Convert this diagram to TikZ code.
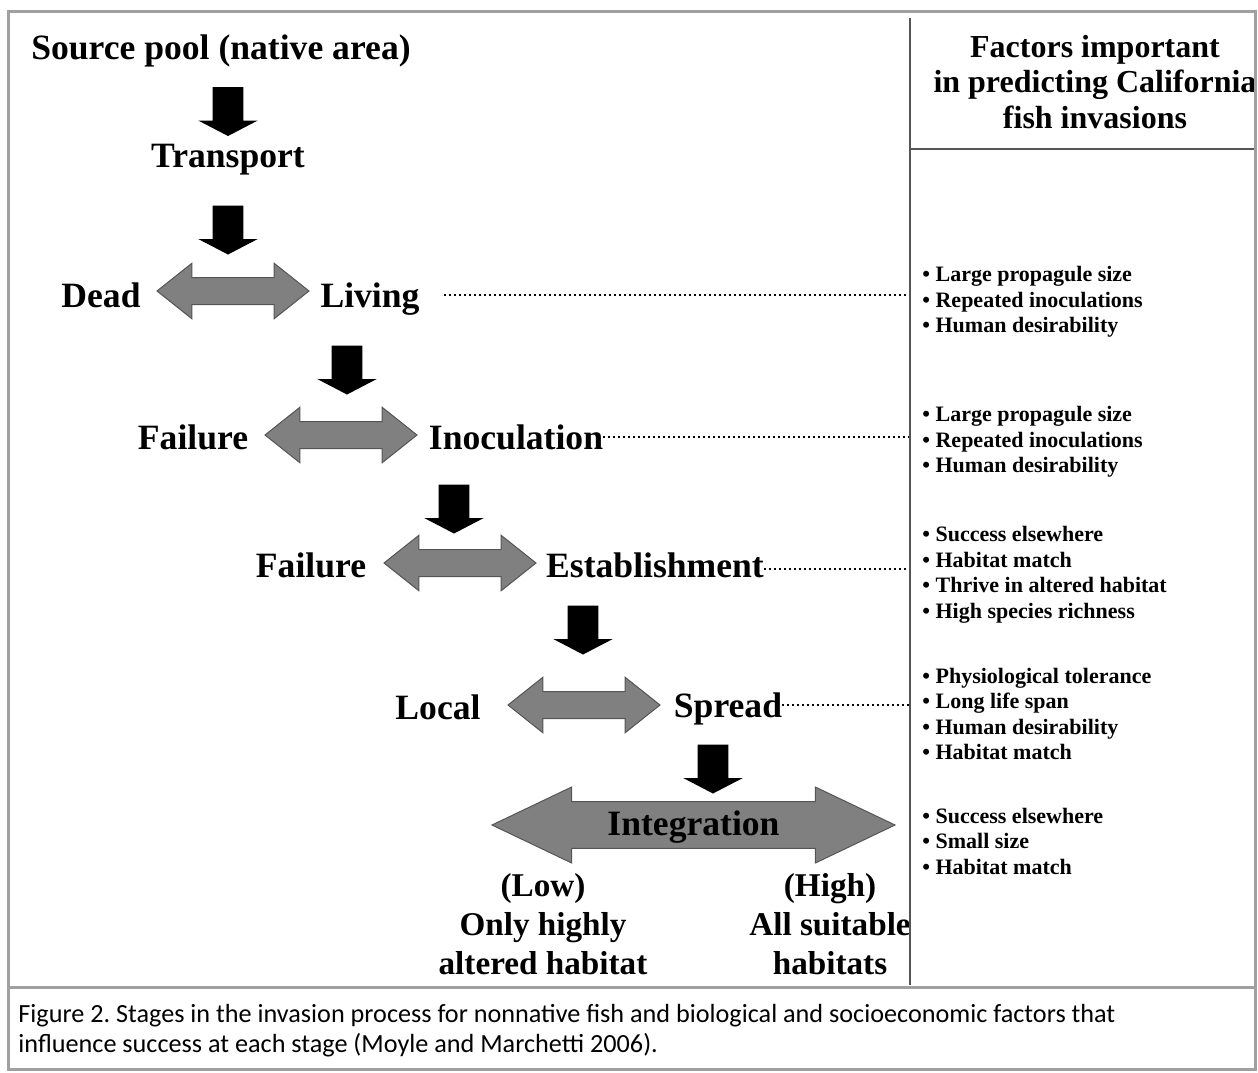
\documentclass[tikz,border=0pt]{standalone}
\usepackage{fontspec}
\setmainfont{Liberation Serif}
\newfontfamily\capfont{Carlito}
\usepackage{tikz}
\usetikzlibrary{shapes.arrows}
\definecolor{framegray}{RGB}{160,160,160}
\definecolor{arrowgray}{RGB}{128,128,128}
\definecolor{rulegray}{RGB}{85,85,85}
\frenchspacing

\begin{document}
\begin{tikzpicture}[x=0.5pt,y=-0.5pt,
  stage/.style={font=\bfseries\fontsize{17.8}{19.5}\selectfont,inner sep=0pt,text height=15pt,text depth=3pt},
  endlbl/.style={font=\bfseries\fontsize{16.6}{19.5}\selectfont,inner sep=0pt,align=center},
  head/.style={font=\bfseries\fontsize{16}{17.75}\selectfont,inner sep=0pt,align=center},
  factor/.style={font=\bfseries\fontsize{11}{12.75}\selectfont,inner sep=0pt,align=left,anchor=west},
  capt/.style={font=\capfont\fontsize{13.1}{15}\selectfont,inner sep=0pt,align=left,anchor=west},
  down/.style={single arrow,fill=black,rotate=-90,inner xsep=0pt,inner ysep=7.5pt,minimum width=29pt,minimum height=24.5pt,single arrow tip angle=125},
  both/.style={double arrow,fill=arrowgray,draw=rulegray,line width=0.5pt,inner xsep=0pt,inner ysep=6.5pt,minimum width=24pt,minimum height=76pt,double arrow tip angle=77},
  dotline/.style={line width=1pt,dash pattern=on 1pt off 1.5pt}]

    \useasboundingbox (0,0) rectangle (1258,1072);

    % The stages
    \node [stage] at (221,47) (source) {Source pool (native area)};
    \node [down] at (228,107.5) (a1) {};
    \node [stage] at (228,155) (transport) {Transport};
    \node [down] at (228,226) (a2) {};

    \node [stage] at (101,295) (dead) {Dead};
    \node [both] at (233,291) (d1) {};
    \node [stage] at (370,295) (living) {Living};
    \node [down] at (347,366) (a3) {};

    \node [stage] at (193,437) (fail1) {Failure};
    \node [both] at (341,435) (d2) {};
    \node [stage] at (516,437) (inoc) {Inoculation};
    \node [down] at (454,505) (a4) {};

    \node [stage] at (311,565) (fail2) {Failure};
    \node [both] at (460,563) (d3) {};
    \node [stage] at (655,565) (estab) {Establishment};
    \node [down] at (583,626) (a5) {};

    \node [stage] at (438,707) (local) {Local};
    \node [both] at (584,705) (d4) {};
    \node [stage] at (728,705) (spread) {Spread};
    \node [down] at (713,765) (a6) {};

    % Integration
    \node [both,inner ysep=11.25pt,minimum width=38pt,minimum height=201.5pt,double arrow tip angle=51] at (693.5,825) (integ) {};
    \node [stage] at ([yshift=1pt]integ) (intlbl) {Integration};
    \node [endlbl] at (543,924) (low) {(Low)\\Only highly\\altered habitat};
    \node [endlbl] at (830,924) (high) {(High)\\All suitable\\habitats};

    % The factors
    \coordinate (divtop) at (910,18);
    \coordinate (divbot) at (910,985);
    \begin{scope}
      \clip (910,18) rectangle (1254,149);
      \node [head] at (1095,82) (factors) {Factors important\\in predicting California\\fish invasions};
    \end{scope}
    \node [factor] at (922,302) (f1) {• Large propagule size\\• Repeated inoculations\\• Human desirability};
    \node [factor] at (922,442) (f2) {• Large propagule size\\• Repeated inoculations\\• Human desirability};
    \node [factor] at (922,575) (f3) {• Success elsewhere\\• Habitat match\\• Thrive in altered habitat\\• High species richness};
    \node [factor] at (922,714) (f4) {• Physiological tolerance\\• Long life span\\• Human desirability\\• Habitat match};
    \node [factor] at (922,841) (f5) {• Success elsewhere\\• Small size\\• Habitat match};

    % Dotted links
    \draw [dotline] ([xshift=12pt]living.east) -- (living.east -| divtop);
    \draw [dotline] (inoc.east) -- (inoc.east -| divtop);
    \draw [dotline] ([yshift=-2pt]estab.east) -- ([yshift=-2pt]estab.east -| divtop);
    \draw [dotline] (spread.east) -- (spread.east -| divtop);

    % Rules and frame
    \draw [rulegray,line width=1pt] (divtop) -- (divbot);
    \draw [rulegray,line width=1pt] (divtop |- 0,149) -- (1255,149);
    \draw [framegray,line width=1.5pt] (8,11) rectangle (1255,1069);
    \draw [framegray,line width=1.5pt] (8,987) -- (1255,987);

    % Caption
    \node [capt] at (18,1031) (caption) {Figure 2. Stages in the invasion process for nonnative fish and biological and socioeconomic factors that\\influence success at each stage (Moyle and Marchetti 2006).};

\end{tikzpicture}
\end{document}
